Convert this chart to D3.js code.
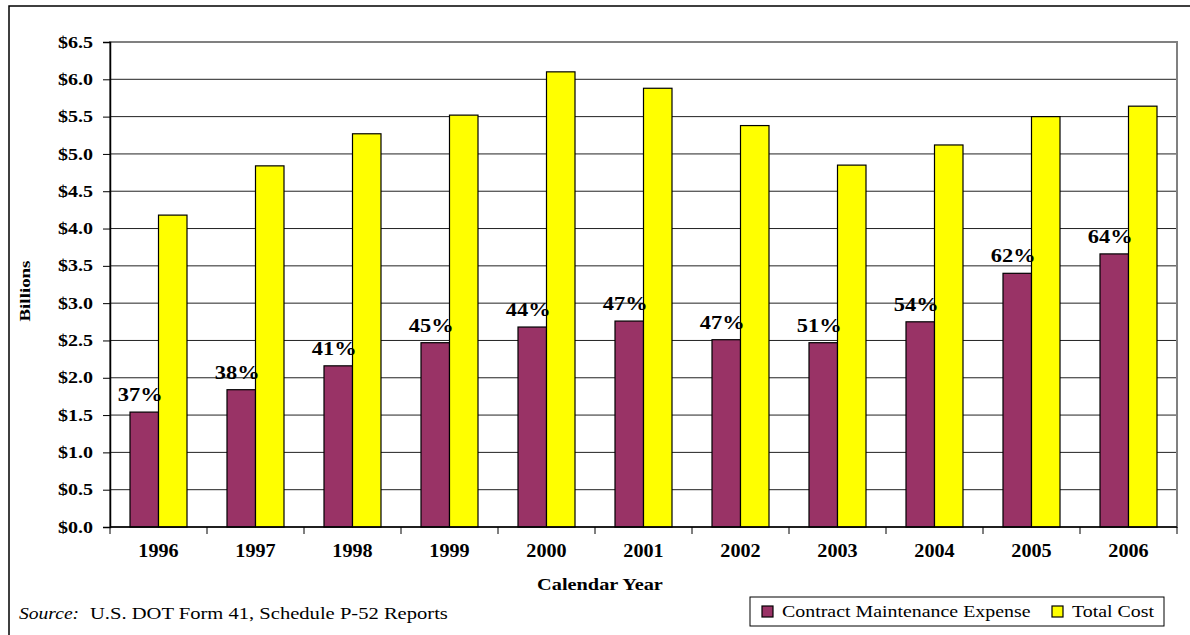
<!DOCTYPE html>
<html>
<head>
<meta charset="utf-8">
<script src="https://cdn.jsdelivr.net/npm/d3@7"></script>
<style>
  body { margin: 0; background: #fff; }
  text { font-family: "Liberation Serif", "Times New Roman", serif; fill: #000; }
</style>
</head>
<body>
<script>
// data (billions of dollars)
const years = ["1996", "1997", "1998", "1999", "2000", "2001", "2002", "2003", "2004", "2005", "2006"];
const contractMaint = [1.54, 1.84, 2.16, 2.47, 2.68, 2.76, 2.51, 2.47, 2.75, 3.40, 3.66];
const totalCost = [4.18, 4.84, 5.27, 5.52, 6.10, 5.88, 5.38, 4.85, 5.12, 5.50, 5.64];
const pctLabels = ["37%", "38%", "41%", "45%", "44%", "47%", "47%", "51%", "54%", "62%", "64%"];
const yTicks = [0, 0.5, 1, 1.5, 2, 2.5, 3, 3.5, 4, 4.5, 5, 5.5, 6, 6.5];
const seriesNames = ["Contract Maintenance Expense", "Total Cost"];
const seriesColors = ["#993366", "#ffff00"];

const width = 1190, height = 635;
const marginLeft = 110, marginRight = 13, marginTop = 42, marginBottom = 108;

const svg = d3.select("body").append("svg")
    .attr("width", width)
    .attr("height", height);

// the source image has wide-looking type, so text gets stretched sideways
function stretch(sel, sx) {
    sel.each(function () {
        const len = this.getComputedTextLength();
        d3.select(this).attr("textLength", len * sx).attr("lengthAdjust", "spacingAndGlyphs");
    });
}

// outer frame (runs off right/bottom like the source)
svg.append("rect")
    .attr("x", 9).attr("y", 6)
    .attr("width", 1200).attr("height", 700)
    .attr("fill", "none").attr("stroke", "#000").attr("stroke-width", 1.5);

const x = d3.scaleBand()
    .domain(years)
    .range([marginLeft, width - marginRight]);

const y = d3.scaleLinear()
    .domain([0, 6.5])
    .range([height - marginBottom, marginTop]);

// gridlines
svg.append("g")
    .selectAll("line")
    .data(yTicks)
    .join("line")
    .attr("x1", marginLeft).attr("x2", width - marginRight)
    .attr("y1", d => y(d)).attr("y2", d => y(d))
    .attr("stroke", "#222").attr("stroke-width", 1);

// plot area border
svg.append("rect")
    .attr("x", marginLeft).attr("y", marginTop)
    .attr("width", width - marginLeft - marginRight)
    .attr("height", height - marginTop - marginBottom)
    .attr("fill", "none").attr("stroke", "#808080").attr("stroke-width", 2);

// bars
const barW = 28.5;
const groups = svg.append("g")
    .selectAll("g")
    .data(years)
    .join("g")
    .attr("transform", d => `translate(${x(d) + x.bandwidth() / 2},0)`);

groups.append("rect")
    .attr("x", -barW)
    .attr("y", (d, i) => y(contractMaint[i]))
    .attr("width", barW)
    .attr("height", (d, i) => y(0) - y(contractMaint[i]))
    .attr("fill", seriesColors[0])
    .attr("stroke", "#000").attr("stroke-width", 1.2);

groups.append("rect")
    .attr("x", 0)
    .attr("y", (d, i) => y(totalCost[i]))
    .attr("width", barW)
    .attr("height", (d, i) => y(0) - y(totalCost[i]))
    .attr("fill", seriesColors[1])
    .attr("stroke", "#000").attr("stroke-width", 1.2);

// percent labels above the maintenance bars
groups.append("text")
    .attr("x", -barW / 2 - 4)
    .attr("y", (d, i) => y(contractMaint[i]) - 11)
    .attr("text-anchor", "middle")
    .attr("font-size", 19)
    .attr("font-weight", "bold")
    .text((d, i) => pctLabels[i])
    .call(stretch, 1.18);

// y axis
svg.append("g")
    .attr("transform", `translate(${marginLeft},0)`)
    .call(d3.axisLeft(y).tickValues(yTicks).tickSize(7).tickPadding(10)
        .tickFormat(d => "$" + d3.format(".1f")(d)))
    .call(g => g.select(".domain").attr("stroke", "#000").attr("stroke-width", 1.5))
    .call(g => g.selectAll(".tick line").attr("stroke", "#000"))
    .call(g => g.selectAll(".tick text")
        .attr("font-family", "Liberation Serif, serif")
        .attr("font-size", 16).attr("font-weight", "bold").attr("fill", "#000")
        .call(stretch, 1.25));

// x axis: ticks at category boundaries
svg.append("g")
    .selectAll("line")
    .data(years.concat([null]))
    .join("line")
    .attr("x1", (d, i) => marginLeft + i * x.step())
    .attr("x2", (d, i) => marginLeft + i * x.step())
    .attr("y1", y(0)).attr("y2", y(0) + 7)
    .attr("stroke", "#000");

svg.append("line")
    .attr("x1", marginLeft).attr("x2", width - marginRight)
    .attr("y1", y(0)).attr("y2", y(0))
    .attr("stroke", "#000").attr("stroke-width", 1.5);

svg.append("g")
    .selectAll("text")
    .data(years)
    .join("text")
    .attr("x", d => x(d) + x.bandwidth() / 2)
    .attr("y", y(0) + 30)
    .attr("text-anchor", "middle")
    .attr("font-size", 18).attr("font-weight", "bold")
    .text(d => d)
    .call(stretch, 1.12);

// axis titles
svg.append("text")
    .attr("x", 600)
    .attr("y", 590)
    .attr("text-anchor", "middle")
    .attr("font-size", 17.5).attr("font-weight", "bold")
    .text("Calendar Year")
    .call(stretch, 1.16);

svg.append("text")
    .attr("transform", "translate(30,291) rotate(-90)")
    .attr("text-anchor", "middle")
    .attr("font-size", 14).attr("font-weight", "bold")
    .attr("textLength", 61).attr("lengthAdjust", "spacingAndGlyphs")
    .text("Billions");

// source note
svg.append("text")
    .attr("x", 19).attr("y", 619)
    .attr("font-size", 17).attr("font-style", "italic")
    .text("Source:")
    .call(stretch, 1.15);
svg.append("text")
    .attr("x", 90).attr("y", 619)
    .attr("font-size", 17)
    .text("U.S. DOT Form 41, Schedule P-52 Reports")
    .call(stretch, 1.21);

// legend
const legend = svg.append("g");
legend.append("rect")
    .attr("x", 750).attr("y", 597)
    .attr("width", 414).attr("height", 29)
    .attr("fill", "#fff").attr("stroke", "#000").attr("stroke-width", 1);

const legendX = [762, 1052];
const items = legend.selectAll("g")
    .data(seriesNames)
    .join("g")
    .attr("transform", (d, i) => `translate(${legendX[i]},606)`);
items.append("rect")
    .attr("width", 11).attr("height", 11)
    .attr("fill", (d, i) => seriesColors[i])
    .attr("stroke", "#000").attr("stroke-width", 1.2);
items.append("text")
    .attr("x", 20).attr("y", 10.5)
    .attr("font-size", 17)
    .text(d => d)
    .call(stretch, 1.17);
</script>
</body>
</html>
